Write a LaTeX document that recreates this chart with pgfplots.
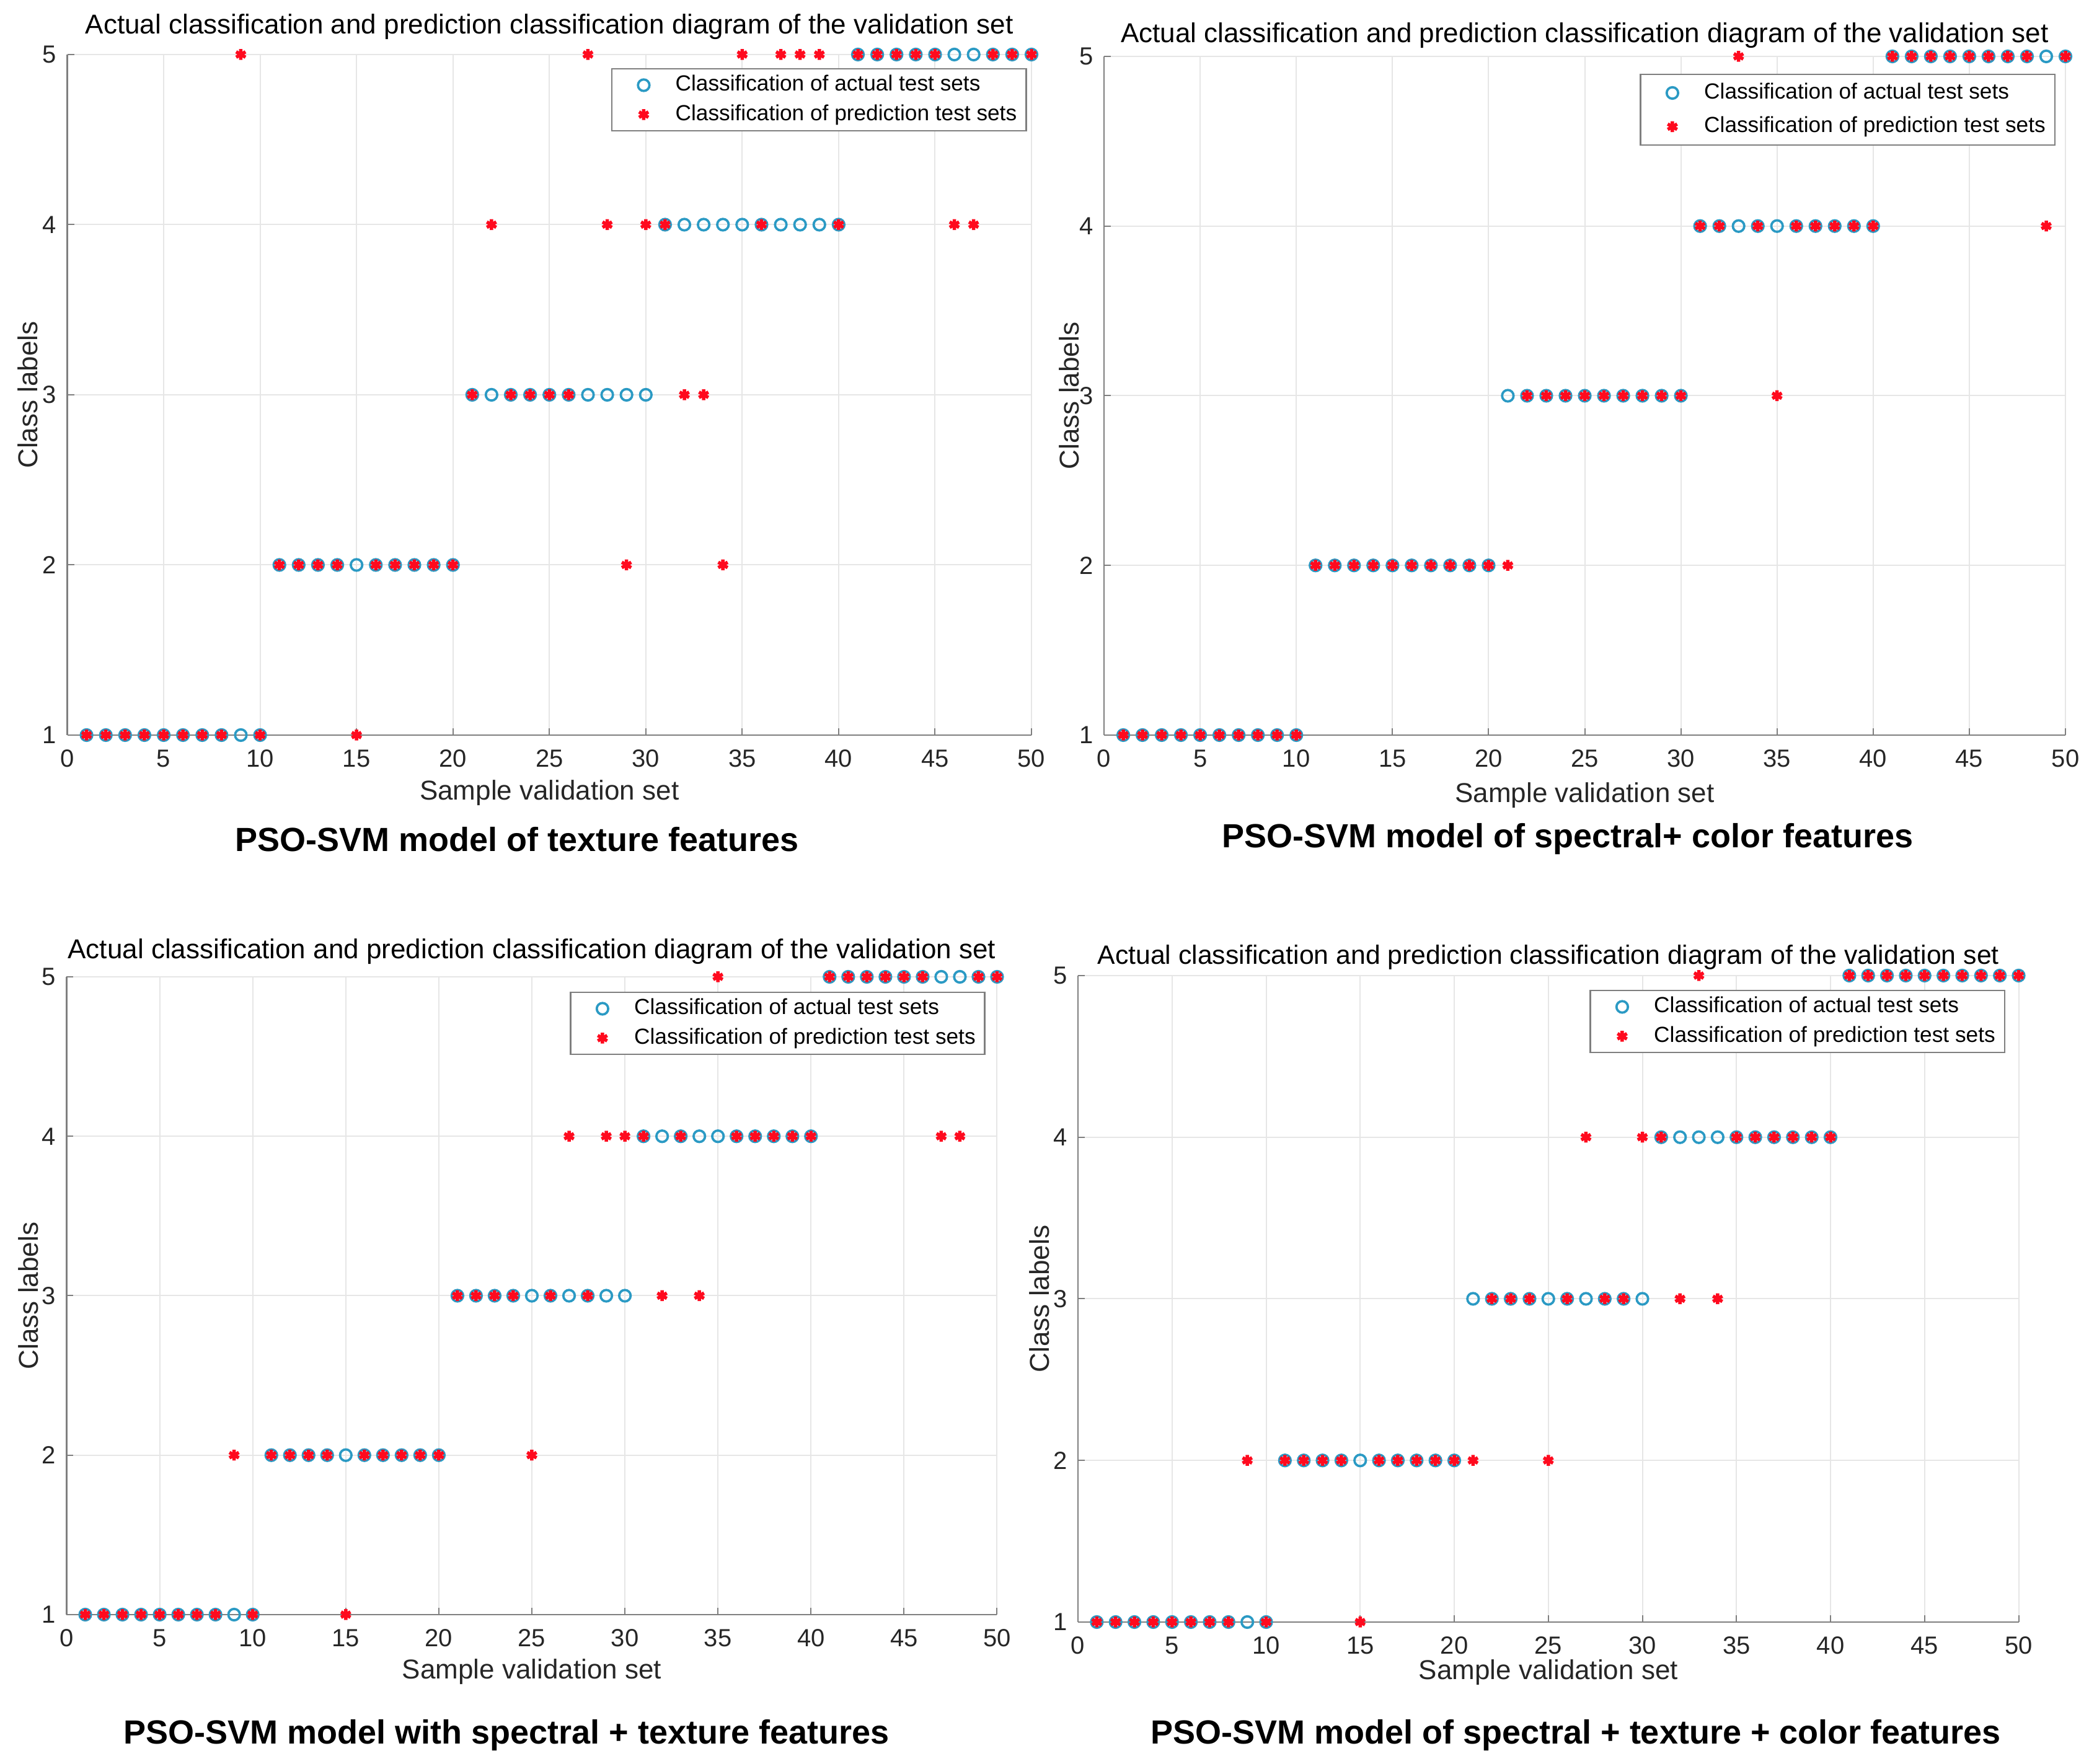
\documentclass[border=0pt]{standalone}
\usepackage{fontspec}
\setmainfont{Liberation Sans}
\usepackage{pgfplots}
\usepackage{pgfplotstable}
\pgfplotsset{compat=1.18}

\definecolor{actualc}{HTML}{2B9AC4}
\definecolor{predc}{HTML}{FF0A1E}
\definecolor{axisgray}{HTML}{7F7F7F}
\definecolor{gridgray}{HTML}{E6E6E6}
\definecolor{textgray}{HTML}{262626}

% sample, actual class, predicted class of the four models
\pgfplotstableread{
n act p1 p2 p3 p4
1 1 1 1 1 1
2 1 1 1 1 1
3 1 1 1 1 1
4 1 1 1 1 1
5 1 1 1 1 1
6 1 1 1 1 1
7 1 1 1 1 1
8 1 1 1 1 1
9 1 5 1 2 2
10 1 1 1 1 1
11 2 2 2 2 2
12 2 2 2 2 2
13 2 2 2 2 2
14 2 2 2 2 2
15 2 1 2 1 1
16 2 2 2 2 2
17 2 2 2 2 2
18 2 2 2 2 2
19 2 2 2 2 2
20 2 2 2 2 2
21 3 3 2 3 2
22 3 4 3 3 3
23 3 3 3 3 3
24 3 3 3 3 3
25 3 3 3 2 2
26 3 3 3 3 3
27 3 5 3 4 4
28 3 4 3 3 3
29 3 2 3 4 3
30 3 4 3 4 4
31 4 4 4 4 4
32 4 3 4 3 3
33 4 3 5 4 5
34 4 2 4 3 3
35 4 5 3 5 4
36 4 4 4 4 4
37 4 5 4 4 4
38 4 5 4 4 4
39 4 5 4 4 4
40 4 4 4 4 4
41 5 5 5 5 5
42 5 5 5 5 5
43 5 5 5 5 5
44 5 5 5 5 5
45 5 5 5 5 5
46 5 4 5 5 5
47 5 4 5 4 5
48 5 5 5 4 5
49 5 5 4 5 5
50 5 5 5 5 5
}\valset

\pgfplotsset{
  panel/.style={
    scale only axis,
    anchor=south west,
    xmin=0, xmax=50, ymin=1, ymax=5,
    xtick={0,5,...,50}, ytick={1,2,3,4,5},
    axis x line*=bottom, axis y line*=left,
    grid=major,
    grid style={color=gridgray, line width=0.4pt},
    tick align=inside,
    major tick length=2.2pt,
    tick style={color=axisgray, line width=0.4pt},
    axis line style={color=axisgray, line width=0.5pt},
    ticklabel style={font=\fontsize{8}{9}\selectfont, text=textgray},
    xticklabel style={yshift=-1.2pt},
    /pgf/number format/assume math mode=true,
    label style={font=\fontsize{8.8}{10}\selectfont, text=textgray},
    title style={font=\fontsize{8.8}{10}\selectfont, text=black},
    xlabel={Sample validation set},
    ylabel={Class labels},
    title={Actual classification and prediction classification diagram of the validation set},
    clip=false,
    legend cell align=left,
    legend style={at={(1,1)}, anchor=north east, draw=axisgray, line width=0.5pt,
      font=\fontsize{7.05}{8.4}\selectfont, text=black, inner xsep=1pt, inner ysep=0.5pt,
      nodes={text height=5.3pt, text depth=1.5pt, inner ysep=1.35pt}},
    legend image code/.code={\path (0pt,0pt) (17pt,0pt); \draw[##1] plot coordinates {(9pt,0pt)};},
  },
  actual/.style={only marks, mark=o, mark size=1.85pt, mark options={line width=0.75pt, draw=actualc}},
  pred/.style={only marks, mark=asterisk, mark size=1.75pt, mark options={line width=1.1pt, draw=predc}},
}

\begin{document}
\begin{tikzpicture}
\useasboundingbox (0,0) rectangle (674pt,569.2pt);

% top left
\begin{axis}[panel, at={(21.7pt,332.0pt)}, width=311.1pt, height=219.6pt,
  title style={at={([yshift=2.9pt]axis description cs:0.5,1)}, anchor=center},
  xlabel style={at={([yshift=-18.6pt]axis description cs:0.5,0)}, anchor=center},
  ylabel style={at={([xshift=-12.8pt]axis description cs:0,0.5)}, anchor=center},
  legend style={xshift=-1.5pt, yshift=-4.4pt}]
\addplot[actual] table[x=n, y=act] {\valset};
\addplot[pred] table[x=n, y=p1] {\valset};
\legend{Classification of actual test sets, Classification of prediction test sets}
\end{axis}

% top right
\begin{axis}[panel, at={(356.2pt,332.0pt)}, width=310.2pt, height=219.0pt,
  title style={at={([yshift=0.7pt]axis description cs:0.5,1)}, anchor=center},
  xlabel style={at={([yshift=-19.4pt]axis description cs:0.5,0)}, anchor=center},
  ylabel style={at={([xshift=-11.2pt]axis description cs:0,0.5)}, anchor=center},
  legend style={xshift=-3.2pt, yshift=-5.6pt, nodes={inner ysep=2.05pt}}]
\addplot[actual] table[x=n, y=act] {\valset};
\addplot[pred] table[x=n, y=p2] {\valset};
\legend{Classification of actual test sets, Classification of prediction test sets}
\end{axis}

% bottom left
\begin{axis}[panel, at={(21.5pt,48.2pt)}, width=300.2pt, height=205.8pt,
  title style={at={([yshift=2.1pt]axis description cs:0.5,1)}, anchor=center},
  xlabel style={at={([yshift=-18.4pt]axis description cs:0.5,0)}, anchor=center},
  ylabel style={at={([xshift=-12.4pt]axis description cs:0,0.5)}, anchor=center},
  legend style={xshift=-3.7pt, yshift=-4.8pt}]
\addplot[actual] table[x=n, y=act] {\valset};
\addplot[pred] table[x=n, y=p3] {\valset};
\legend{Classification of actual test sets, Classification of prediction test sets}
\end{axis}

% bottom right
\begin{axis}[panel, at={(347.8pt,45.8pt)}, width=303.5pt, height=208.6pt,
  title style={at={([yshift=-0.1pt]axis description cs:0.5,1)}, anchor=center, font=\fontsize{8.55}{10}\selectfont},
  xlabel style={at={([yshift=-16.2pt]axis description cs:0.5,0)}, anchor=center},
  ylabel style={at={([xshift=-12.4pt]axis description cs:0,0.5)}, anchor=center},
  legend style={xshift=-4.3pt, yshift=-4.6pt}]
\addplot[actual] table[x=n, y=act] {\valset};
\addplot[pred] table[x=n, y=p4] {\valset};
\legend{Classification of actual test sets, Classification of prediction test sets}
\end{axis}

% panel captions
\begin{scope}[every node/.style={font=\fontsize{10.8}{12}\selectfont\bfseries, anchor=center}]
\node at (166.8pt,298.4pt) {PSO-SVM model of texture features};
\node at (505.8pt,298.4pt) {PSO-SVM model of spectral+ color features};
\node at (163.4pt,9.2pt) {PSO-SVM model with spectral + texture features};
\node at (508.4pt,9.2pt) {PSO-SVM model of spectral + texture + color features};
\end{scope}
\end{tikzpicture}
\end{document}
